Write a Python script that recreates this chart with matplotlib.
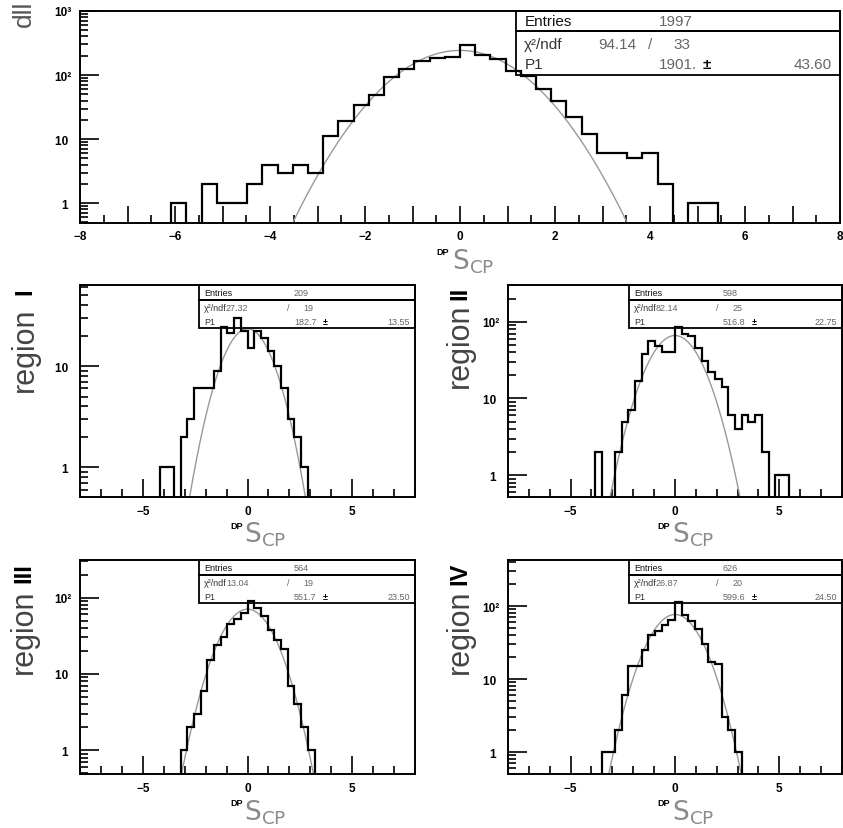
import numpy as np
import matplotlib
matplotlib.use("Agg")
import matplotlib.pyplot as plt
from matplotlib.patches import Rectangle
from matplotlib.ticker import MultipleLocator, FixedLocator, FuncFormatter, LogLocator, NullFormatter

plt.rcParams['font.family'] = ['Liberation Sans', 'DejaVu Sans']

# --- binning shared by all histograms ---
x_lo, x_hi = -8.0, 8.0
bin_w = 0.32

# --- counts per bin, each list starts at the given lower bin edge ---
all_start = -6.08
all_counts = [1, 0, 2, 1, 1, 2, 4, 3, 4, 3, 11, 19, 34, 49, 92, 124, 164, 182, 190, 295,
              205, 178, 115, 97, 60, 40, 22, 12, 6, 6, 5, 6, 2, 0, 1, 1]

r1_start = -4.16
r1_counts = [1, 1, 0, 2, 3, 6, 6, 6, 9, 24, 21, 30, 22, 15, 22, 19, 14, 10, 6, 3, 2, 1]

r2_start = -3.84
r2_counts = [2, 0, 0, 2, 5, 7, 17, 38, 56, 48, 40, 40, 85, 70, 65, 45, 31, 22, 18, 14,
             6, 4, 6, 5, 6, 2, 0, 1, 1]

r3_start = -3.20
r3_counts = [1, 2, 3, 6, 15, 24, 30, 45, 52, 63, 90, 74, 57, 38, 28, 21, 7, 4, 2, 1]

r4_start = -3.52
r4_counts = [1, 1, 2, 6, 15, 15, 25, 40, 45, 55, 65, 115, 75, 62, 48, 30, 17, 16, 3, 2, 1]

# --- fit results shown in the stat boxes ---
entries = [1997, 209, 598, 564, 626]
chi2 = [94.14, 27.32, 82.14, 13.04, 26.87]
ndf = [33, 19, 25, 19, 20]
p1 = [1901.0, 182.7, 516.8, 551.7, 599.6]
p1_err = [43.60, 13.55, 22.75, 23.50, 24.50]

ylims = [(0.49, 1000), (0.51, 63), (0.52, 300), (0.49, 310), (0.50, 427)]
numerals = ['I', 'II', 'III', 'IV']

W, H = 843, 829
fig = plt.figure(figsize=(W / 100, H / 100), dpi=100)


def px_axes(l, t, r, b):
    return fig.add_axes([l / W, 1 - b / H, (r - l) / W, (b - t) / H])


def fmt_p1(v):
    return f"{v:.0f}." if v >= 1000 else f"{v:.1f}"


def ylabel_fmt(v, pos):
    lab = {1: '1 ', 10: '10 ', 100: '10\u00b2', 1000: '10\u00b3'}
    return lab.get(int(round(v)), '')


def draw_hist(ax, start, counts, norm, ylim, top=False):
    counts = np.array(counts, dtype=float)
    edges = start + bin_w * np.arange(len(counts) + 1)
    vals = np.where(counts > 0, counts, 1e-3)
    ax.stairs(vals, edges, baseline=1e-3, color='black', lw=1.6, zorder=3)
    xs = np.linspace(x_lo, x_hi, 801)
    ax.plot(xs, norm * bin_w * np.exp(-0.5 * xs ** 2) / np.sqrt(2 * np.pi),
            color='#999999', lw=1.0, zorder=2)
    ax.set_yscale('log')
    ax.set_xlim(x_lo, x_hi)
    ax.set_ylim(*ylim)

    for s in ax.spines.values():
        s.set_linewidth(1.4)
    fs = 8.5
    if top:
        ax.xaxis.set_major_locator(MultipleLocator(1))
        ax.xaxis.set_minor_locator(MultipleLocator(0.5))
        ax.xaxis.set_major_formatter(FuncFormatter(
            lambda v, p: (f"{v:.0f}".replace('-', '\u2212') if round(v) % 2 == 0 else '')))
        ax.tick_params(axis='x', which='major', length=12, pad=5)
        ax.tick_params(axis='x', which='minor', length=6)
    else:
        ax.xaxis.set_major_locator(MultipleLocator(5))
        ax.xaxis.set_minor_locator(MultipleLocator(1))
        ax.xaxis.set_major_formatter(FuncFormatter(
            lambda v, p: f"{v:.0f}".replace('-', '\u2212')))
        ax.tick_params(axis='x', which='major', length=13, pad=6)
        ax.tick_params(axis='x', which='minor', length=6)
    decades = [d for d in [1, 10, 100, 1000] if ylim[0] <= d <= ylim[1]]
    ax.yaxis.set_major_locator(FixedLocator(decades))
    ax.yaxis.set_major_formatter(FuncFormatter(ylabel_fmt))
    ax.yaxis.set_minor_locator(LogLocator(base=10, subs=np.arange(2, 10)))
    ax.yaxis.set_minor_formatter(NullFormatter())
    ax.tick_params(axis='y', which='major', length=14, pad=6)
    ax.tick_params(axis='y', which='minor', length=6)
    ax.tick_params(which='both', direction='in', width=1.2, top=False, right=False,
                   labelsize=fs)
    for lab in ax.get_xticklabels() + ax.get_yticklabels():
        lab.set_fontweight('bold')


def stats_box(ax, i, x0, y_mid, y_bot, fs, chi_x):
    kw = dict(transform=ax.transAxes, fill=False, lw=1.3, ec='black', clip_on=False, zorder=5)
    ax.add_patch(Rectangle((x0, y_mid), 1 - x0, 1 - y_mid, **kw))
    ax.add_patch(Rectangle((x0, y_bot), 1 - x0, y_mid - y_bot, **kw))
    w = 1 - x0
    r1 = (1 + y_mid) / 2
    r2 = y_mid - (y_mid - y_bot) * 0.29
    r3 = y_mid - (y_mid - y_bot) * 0.76

    def put(fx, fy, s, ha='left', color='#666666', weight='normal'):
        ax.text(x0 + fx * w, fy, s, transform=ax.transAxes, ha=ha, va='center',
                fontsize=fs, color=color, fontweight=weight, zorder=6)

    put(0.025, r1, 'Entries', color='#111111')
    put(0.44, r1, f"{entries[i]}")
    put(0.025, r2, '\u03c7\u00b2/ndf', color='#333333')
    put(chi_x, r2, f"{chi2[i]:.2f}")
    put(0.415, r2, '/', ha='center')
    put(0.485, r2, f"{ndf[i]}")
    put(0.025, r3, 'P1', color='#333333')
    put(0.44, r3, fmt_p1(p1[i]))
    put(0.575, r3, '\u00b1', color='black', weight='bold')
    put(0.975, r3, f"{p1_err[i]:.2f}", ha='right')


def x_label(ax, s_top, s_left):
    ax.text(s_left - 0.004, s_top - 0.004, 'DP', transform=ax.transAxes, ha='right', va='top',
            fontsize=6.5, fontweight='bold', color='black')
    ax.text(s_left, s_top, r'$\mathrm{S}_{\mathrm{CP}}$', transform=ax.transAxes, ha='left',
            va='top', fontsize=19, color='#8a8a8a')


# --- top panel: all regions ---
ax0 = px_axes(80, 12, 840, 224)
draw_hist(ax0, all_start, all_counts, p1[0], ylims[0], top=True)
stats_box(ax0, 0, 0.574, 0.906, 0.698, 11, 0.252)
x_label(ax0, -0.11, 0.49)
fig.text(24 / W, 1 - 1 / H, 'dll', rotation=90, ha='center', va='top', fontsize=19,
         color='#555555')

# --- four region panels ---
boxes = [(80, 286, 415, 498), (508, 286, 842, 498), (80, 561, 415, 775), (508, 561, 842, 775)]
starts = [r1_start, r2_start, r3_start, r4_start]
counts = [r1_counts, r2_counts, r3_counts, r4_counts]
label_x = [25, 460, 24, 460]
num_top = [288, 287, 563, 563]
reg_top = [307, 304, 590, 590]

for k in range(4):
    l, t, r, b = boxes[k]
    ax = px_axes(l, t, r, b)
    draw_hist(ax, starts[k], counts[k], p1[k + 1], ylims[k + 1])
    y_mid = 1 - 14.5 / (b - t)
    y_bot = 1 - 43 / (b - t)
    x0 = (199 - l) / (r - l) if l < 400 else (629 - l) / (r - l)
    stats_box(ax, k + 1, x0, y_mid, y_bot, 6.5, 0.125)
    x_label(ax, -0.108, 0.49)
    fig.text(label_x[k] / W, 1 - num_top[k] / H, numerals[k], rotation=90, ha='center',
             va='top', fontsize=17, fontweight='bold', color='black')
    fig.text(label_x[k] / W, 1 - reg_top[k] / H, 'region', rotation=90, ha='center',
             va='top', fontsize=22, color='#444444')

fig.savefig('out.png', dpi=100)
